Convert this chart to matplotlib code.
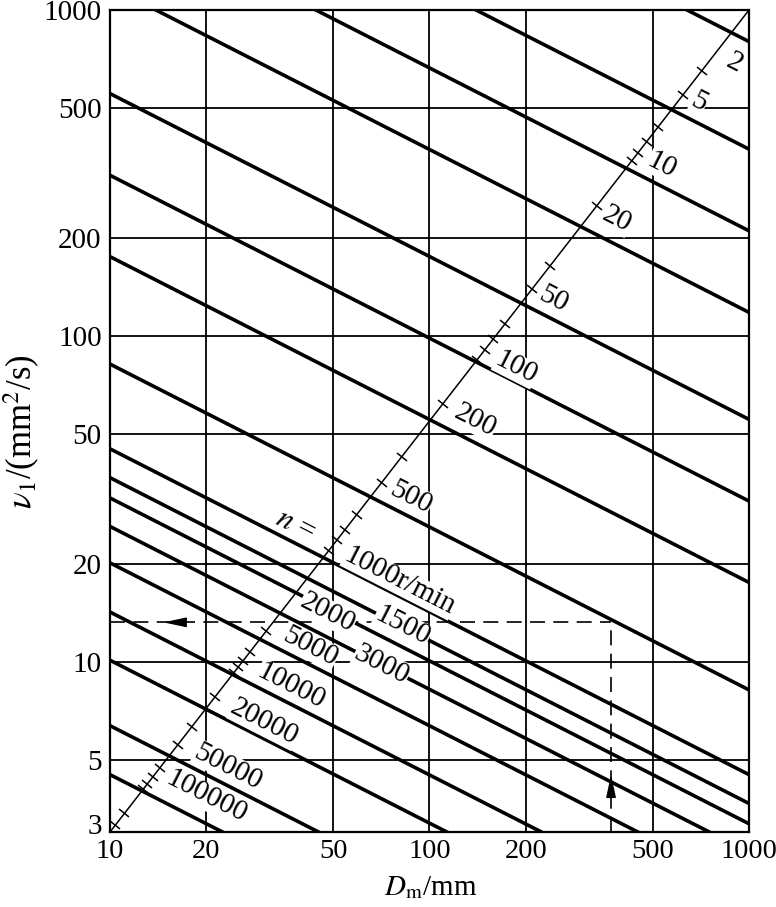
import numpy as np
import matplotlib
matplotlib.use('Agg')
import matplotlib.pyplot as plt
from matplotlib.markers import MarkerStyle
from matplotlib.transforms import Affine2D, ScaledTranslation
from matplotlib.patches import ArrowStyle

plt.rcParams['font.family'] = ['Liberation Serif', 'DejaVu Serif']
plt.rcParams['mathtext.fontset'] = 'stix'

# speed lines n (r/min): nu1 read at Dm = 10 mm and at Dm = 1000 mm
speeds = [2, 5, 10, 20, 50, 100, 200, 500, 1000, 1500, 2000, 3000, 5000,
          10000, 20000, 50000, 100000]
nu_at_10 = [8000, 3740, 2100, 1180, 554, 311, 175, 81.9, 45.0, 36.7, 31.8,
            26.0, 20.1, 14.2, 10.1, 6.36, 4.50]
nu_at_1000 = [800, 374, 210, 118, 55.4, 31.1, 17.5, 8.19, 4.50, 3.67, 3.18,
              2.60, 2.01, 1.42, 1.01, 0.636, 0.450]

# labels written next to the lines (centre of each label)
label_text = ['2', '5', '10', '20', '50', '100', '200', '500', '1000r/min',
              '1500', '2000', '3000', '5000', '10000', '20000', '50000', '100000']
label_dm = [902, 697, 533, 387, 245, 187, 139, 87.2, 80.6, 82.2, 47.9, 70.8,
            42.3, 36.8, 30.4, 23.4, 20.0]
label_nu = [689, 520, 334.6, 227.5, 129, 79.8, 55.0, 31.96, 17.66, 12.85,
            14.1, 9.8, 11.1, 8.4, 6.5, 4.75, 3.85]

# small ticks of the n scale on the diagonal (Dm where they sit)
tick_dm = [711, 621, 519, 478, 450, 430, 334, 238, 209, 172, 158, 149, 141,
           110, 81.8, 70.8, 59.1, 54.4, 51.3, 48.4, 30.8, 27.4, 26.1, 25.2,
           24.4, 21.3, 18.0, 16.3, 14.3, 13.6, 13.1, 12.7, 11.1, 10.4]

diag_dm = [10, 1000]
diag_nu = [3, 1000]

# worked example: Dm = 370 mm, n = 500 r/min -> nu1 about 13.2
ex_dm = 370
ex_nu = 13.2

xticks = [10, 20, 50, 100, 200, 500, 1000]
yticks = [3, 5, 10, 20, 50, 100, 200, 500, 1000]

fig = plt.figure(figsize=(7.76, 9.07), dpi=100)
ax = fig.add_axes([110/776, 1-832/907, 639/776, 822/907])
ax.set_xscale('log')
ax.set_yscale('log')
ax.set_xlim(10, 1000)
ax.set_ylim(3, 1000)
ax.set_xticks(xticks)
ax.set_xticklabels([str(v) for v in xticks])
ax.set_yticks(yticks)
ax.set_yticklabels([str(v) for v in yticks])
ax.xaxis.set_minor_locator(matplotlib.ticker.NullLocator())
ax.yaxis.set_minor_locator(matplotlib.ticker.NullLocator())
ax.tick_params(length=0, labelsize=21, pad=6)
ax.tick_params(axis='x', labelsize=20.5, pad=5)
ax.grid(True, color='black', lw=1.3)
for s in ax.spines.values():
    s.set_linewidth(1.6)

# lift the lowest y label a little, as in the original
lab3 = ax.get_yticklabels()[0]
lab3.set_transform(lab3.get_transform() + ScaledTranslation(0, 6/72, fig.dpi_scale_trans))

# speed lines
for a, b in zip(nu_at_10, nu_at_1000):
    ax.plot([10, 1000], [a, b], color='black', lw=2.6, solid_capstyle='butt')

# diagonal n scale
ax.plot(diag_dm, diag_nu, color='black', lw=1.1)
tick_nu = 10 ** np.interp(np.log10(tick_dm), np.log10(diag_dm), np.log10(diag_nu))
p0 = ax.transData.transform((diag_dm[0], diag_nu[0]))
p1 = ax.transData.transform((diag_dm[1], diag_nu[1]))
ang = np.degrees(np.arctan2(p1[1] - p0[1], p1[0] - p0[0]))
tick_mark = MarkerStyle('_', transform=Affine2D().rotate_deg(ang + 90))
ax.plot(tick_dm, tick_nu, ls='none', marker=tick_mark, markersize=9,
        markeredgewidth=1.1, color='black')

# labels along the lines
for s, x, y in zip(label_text, label_dm, label_nu):
    ax.text(x, y, s, rotation=-27, rotation_mode='anchor', ha='center',
            va='center', fontsize=21,
            bbox=dict(facecolor='white', edgecolor='none', pad=0.3))
ax.text(38.0, 26.2, r'$n$ =', rotation=-27, rotation_mode='anchor',
        ha='center', va='center', fontsize=22)

# worked example with dashed guide lines
ax.plot([10, ex_dm], [ex_nu, ex_nu], color='black', lw=1.2, ls=(0, (9, 5)))
ax.plot([ex_dm, ex_dm], [3, ex_nu], color='black', lw=1.2, ls=(0, (9, 5)))
head = ArrowStyle('-|>', head_length=1.4, head_width=0.3)
ax.annotate('', xy=(14.7, ex_nu), xytext=(16.9, ex_nu),
            arrowprops=dict(arrowstyle=head, color='black', lw=1.0,
                            shrinkA=0, shrinkB=0, mutation_scale=10))
ax.annotate('', xy=(ex_dm, 4.5), xytext=(ex_dm, 3.88),
            arrowprops=dict(arrowstyle=head, color='black', lw=1.0,
                            shrinkA=0, shrinkB=0, mutation_scale=10))

fig.text(431/776, 1-888/907, r'$D_{\mathrm{m}}$/mm', ha='center', va='center',
         fontsize=21)
fig.text(22/776, 1-432/907, r'$\nu_1$/(mm$^2$/s)', ha='center', va='center',
         rotation=90, fontsize=25)

fig.savefig('out.png', dpi=100)
